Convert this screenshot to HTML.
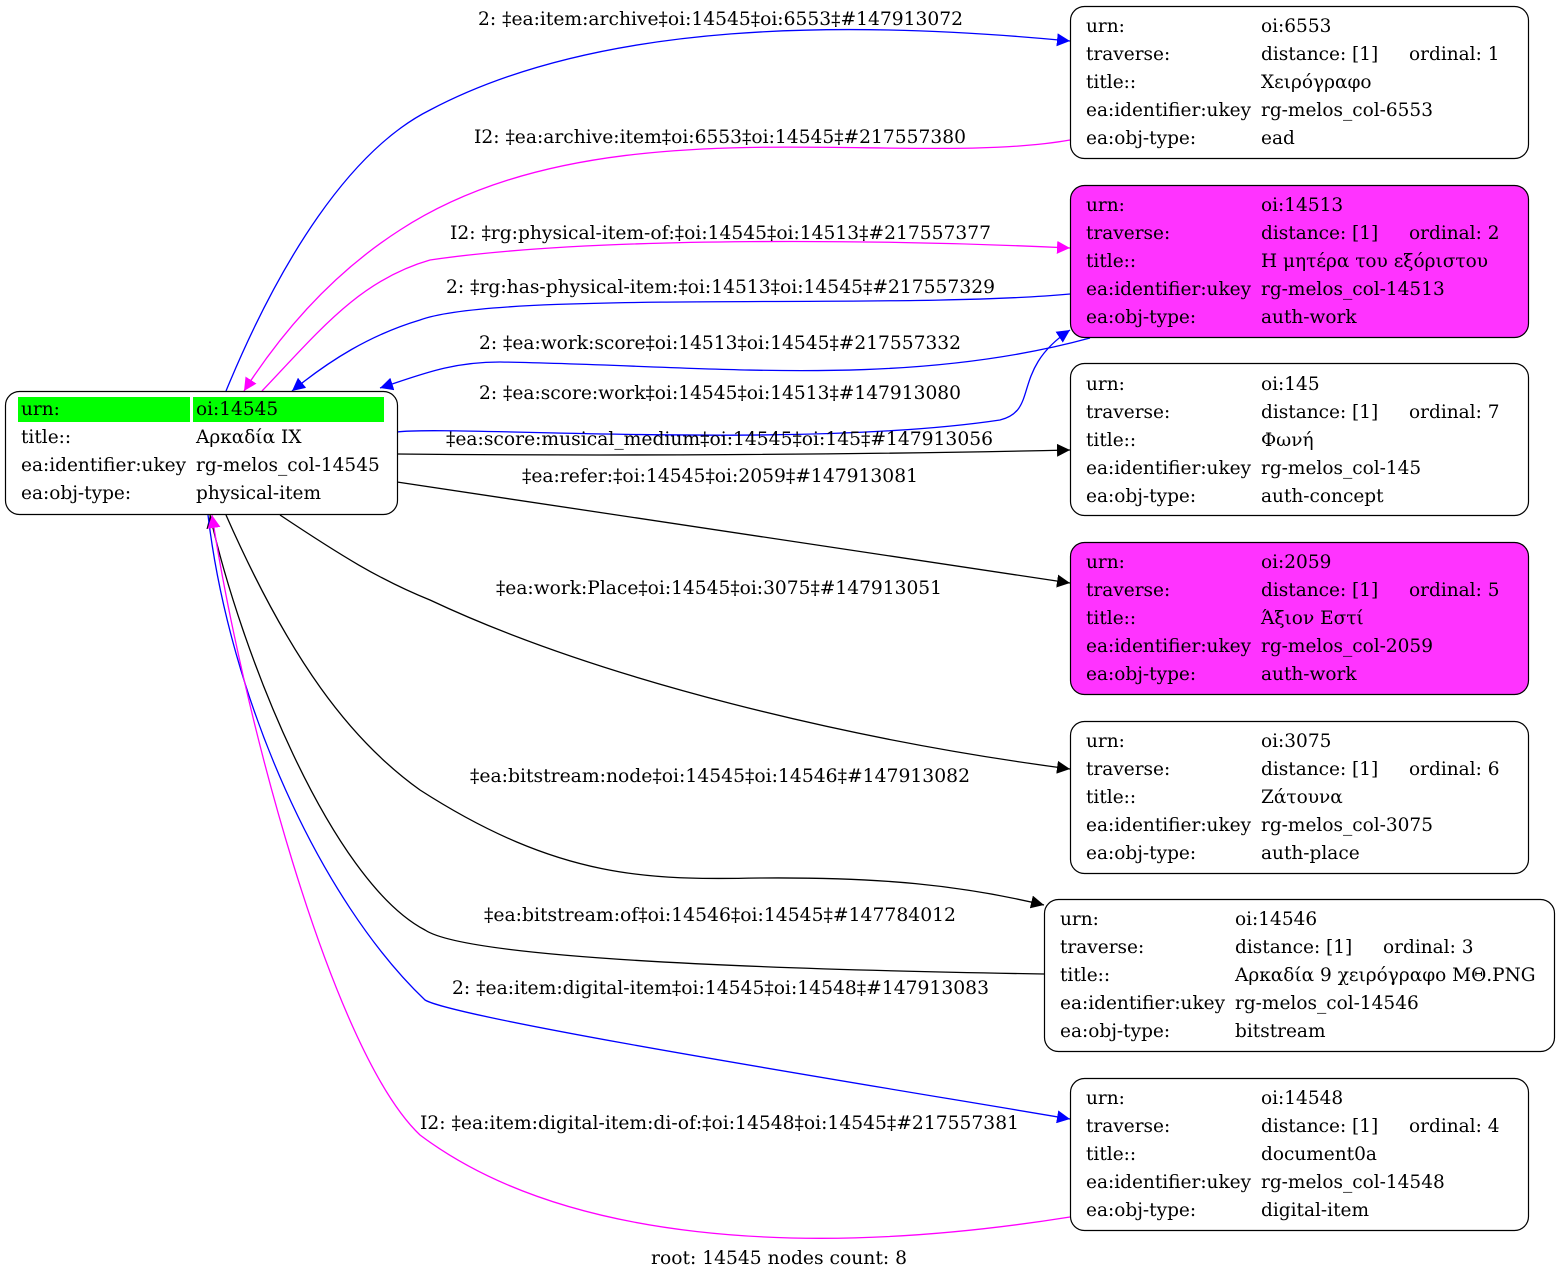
<!DOCTYPE html>
<html><head><meta charset="utf-8"><style>
html,body{margin:0;padding:0;background:#fff;}
svg{display:block;}
text{font-family:"DejaVu Serif","Liberation Serif",serif;font-size:18.5px;fill:#000;}
</style></head><body>
<svg width="1560" height="1280" viewBox="0 0 1560 1280" xmlns="http://www.w3.org/2000/svg">
<defs>
<marker id="ab" viewBox="0 0 10 10" refX="10" refY="5" markerWidth="13" markerHeight="13" markerUnits="userSpaceOnUse" orient="auto"><path d="M0,0L10,5L0,10z" fill="#0000ff"/></marker>
<marker id="am" viewBox="0 0 10 10" refX="10" refY="5" markerWidth="13" markerHeight="13" markerUnits="userSpaceOnUse" orient="auto"><path d="M0,0L10,5L0,10z" fill="#ff00ff"/></marker>
<marker id="ak" viewBox="0 0 10 10" refX="10" refY="5" markerWidth="13" markerHeight="13" markerUnits="userSpaceOnUse" orient="auto"><path d="M0,0L10,5L0,10z" fill="#000"/></marker>
</defs>
<g fill="none" stroke-width="1.3">
<path d="M226,391 C280,260 350,150 430,110 C600,20 850,20 1070,41" stroke="#00f" marker-end="url(#ab)"/>
<path d="M1070,140 C900,170 600,100 400,230 C330,275 280,335 244,391" stroke="#f0f" marker-end="url(#am)"/>
<path d="M262,391 C320,330 360,280 430,260 C600,235 900,240 1070,248" stroke="#f0f" marker-end="url(#am)"/>
<path d="M1070,294 C900,310 500,290 420,320 C370,335 330,360 292,391" stroke="#00f" marker-end="url(#ab)"/>
<path d="M1090,338 C900,390 700,365 500,362 C450,362 420,375 380,388" stroke="#00f" marker-end="url(#ab)"/>
<path d="M397,432 C450,425 800,450 1000,420 C1040,410 1010,370 1070,330" stroke="#00f" marker-end="url(#ab)"/>
<path d="M397,454 C600,456 850,455 1070,450" stroke="#000" marker-end="url(#ak)"/>
<path d="M397,482 L1070,583" stroke="#000" marker-end="url(#ak)"/>
<path d="M280,515 C340,555 380,580 430,600 C600,680 850,740 1070,769" stroke="#000" marker-end="url(#ak)"/>
<path d="M226,515 C290,660 350,740 420,790 C560,880 650,880 760,878 C880,877 960,885 1044,905" stroke="#000" marker-end="url(#ak)"/>
<path d="M1044,974 C800,970 470,960 425,930 C330,880 240,650 210,515" stroke="#000" marker-end="url(#ak)"/>
<path d="M208,515 C230,700 320,900 425,1000 C460,1020 900,1090 1070,1119" stroke="#00f" marker-end="url(#ab)"/>
<path d="M1070,1217 C800,1260 560,1240 420,1135 C330,1050 240,700 212,515" stroke="#f0f" marker-end="url(#am)"/>
</g>
<g>
<text x="478" y="25" textLength="485" lengthAdjust="spacingAndGlyphs">2: ‡ea:item:archive‡oi:14545‡oi:6553‡#147913072</text>
<text x="474" y="143" textLength="492" lengthAdjust="spacingAndGlyphs">I2: ‡ea:archive:item‡oi:6553‡oi:14545‡#217557380</text>
<text x="450" y="239" textLength="541" lengthAdjust="spacingAndGlyphs">I2: ‡rg:physical-item-of:‡oi:14545‡oi:14513‡#217557377</text>
<text x="446" y="293" textLength="549" lengthAdjust="spacingAndGlyphs">2: ‡rg:has-physical-item:‡oi:14513‡oi:14545‡#217557329</text>
<text x="479" y="349" textLength="482" lengthAdjust="spacingAndGlyphs">2: ‡ea:work:score‡oi:14513‡oi:14545‡#217557332</text>
<text x="479" y="399" textLength="482" lengthAdjust="spacingAndGlyphs">2: ‡ea:score:work‡oi:14545‡oi:14513‡#147913080</text>
<text x="446" y="445" textLength="547" lengthAdjust="spacingAndGlyphs">‡ea:score:musical_medium‡oi:14545‡oi:145‡#147913056</text>
<text x="522" y="482" textLength="396" lengthAdjust="spacingAndGlyphs">‡ea:refer:‡oi:14545‡oi:2059‡#147913081</text>
<text x="496" y="594" textLength="446" lengthAdjust="spacingAndGlyphs">‡ea:work:Place‡oi:14545‡oi:3075‡#147913051</text>
<text x="470" y="782" textLength="500" lengthAdjust="spacingAndGlyphs">‡ea:bitstream:node‡oi:14545‡oi:14546‡#147913082</text>
<text x="484" y="921" textLength="472" lengthAdjust="spacingAndGlyphs">‡ea:bitstream:of‡oi:14546‡oi:14545‡#147784012</text>
<text x="452" y="994" textLength="537" lengthAdjust="spacingAndGlyphs">2: ‡ea:item:digital-item‡oi:14545‡oi:14548‡#147913083</text>
<text x="420" y="1129" textLength="599" lengthAdjust="spacingAndGlyphs">I2: ‡ea:item:digital-item:di-of:‡oi:14548‡oi:14545‡#217557381</text>
<text x="651" y="1264" textLength="256" lengthAdjust="spacingAndGlyphs">root: 14545 nodes count: 8</text>
</g>
<rect x="5.5" y="391.5" width="392" height="123" rx="14" fill="#fff" stroke="#000" stroke-width="1.2"/>
<rect x="18" y="397" width="172" height="25" fill="#00ff00"/>
<rect x="193" y="397" width="191" height="25" fill="#00ff00"/>
<text x="21" y="415">urn:</text><text x="196" y="415">oi:14545</text>
<text x="21" y="443">title::</text><text x="196" y="443">Αρκαδία IX</text>
<text x="21" y="471">ea:identifier:ukey</text><text x="196" y="471">rg-melos_col-14545</text>
<text x="21" y="499">ea:obj-type:</text><text x="196" y="499">physical-item</text>
<g>
<rect x="1070.5" y="6.5" width="458" height="152" rx="14" fill="#fff" stroke="#000" stroke-width="1.2"/>
<text x="1086" y="32">urn:</text><text x="1261" y="32">oi:6553</text>
<text x="1086" y="60">traverse:</text><text x="1261" y="60">distance: [1]</text><text x="1409" y="60">ordinal: 1</text>
<text x="1086" y="88">title::</text><text x="1261" y="88">Χειρόγραφο</text>
<text x="1086" y="116">ea:identifier:ukey</text><text x="1261" y="116">rg-melos_col-6553</text>
<text x="1086" y="144">ea:obj-type:</text><text x="1261" y="144">ead</text>
</g>
<g>
<rect x="1070.5" y="185.5" width="458" height="152" rx="14" fill="#ff33ff" stroke="#000" stroke-width="1.2"/>
<text x="1086" y="211">urn:</text><text x="1261" y="211">oi:14513</text>
<text x="1086" y="239">traverse:</text><text x="1261" y="239">distance: [1]</text><text x="1409" y="239">ordinal: 2</text>
<text x="1086" y="267">title::</text><text x="1261" y="267">Η μητέρα του εξόριστου</text>
<text x="1086" y="295">ea:identifier:ukey</text><text x="1261" y="295">rg-melos_col-14513</text>
<text x="1086" y="323">ea:obj-type:</text><text x="1261" y="323">auth-work</text>
</g>
<g>
<rect x="1070.5" y="363.5" width="458" height="152" rx="14" fill="#fff" stroke="#000" stroke-width="1.2"/>
<text x="1086" y="390">urn:</text><text x="1261" y="390">oi:145</text>
<text x="1086" y="418">traverse:</text><text x="1261" y="418">distance: [1]</text><text x="1409" y="418">ordinal: 7</text>
<text x="1086" y="446">title::</text><text x="1261" y="446">Φωνή</text>
<text x="1086" y="474">ea:identifier:ukey</text><text x="1261" y="474">rg-melos_col-145</text>
<text x="1086" y="502">ea:obj-type:</text><text x="1261" y="502">auth-concept</text>
</g>
<g>
<rect x="1070.5" y="542.5" width="458" height="152" rx="14" fill="#ff33ff" stroke="#000" stroke-width="1.2"/>
<text x="1086" y="568">urn:</text><text x="1261" y="568">oi:2059</text>
<text x="1086" y="596">traverse:</text><text x="1261" y="596">distance: [1]</text><text x="1409" y="596">ordinal: 5</text>
<text x="1086" y="624">title::</text><text x="1261" y="624">Άξιον Εστί</text>
<text x="1086" y="652">ea:identifier:ukey</text><text x="1261" y="652">rg-melos_col-2059</text>
<text x="1086" y="680">ea:obj-type:</text><text x="1261" y="680">auth-work</text>
</g>
<g>
<rect x="1070.5" y="721.5" width="458" height="152" rx="14" fill="#fff" stroke="#000" stroke-width="1.2"/>
<text x="1086" y="747">urn:</text><text x="1261" y="747">oi:3075</text>
<text x="1086" y="775">traverse:</text><text x="1261" y="775">distance: [1]</text><text x="1409" y="775">ordinal: 6</text>
<text x="1086" y="803">title::</text><text x="1261" y="803">Ζάτουνα</text>
<text x="1086" y="831">ea:identifier:ukey</text><text x="1261" y="831">rg-melos_col-3075</text>
<text x="1086" y="859">ea:obj-type:</text><text x="1261" y="859">auth-place</text>
</g>
<g>
<rect x="1044.5" y="899.5" width="510" height="152" rx="14" fill="#fff" stroke="#000" stroke-width="1.2"/>
<text x="1060" y="925">urn:</text><text x="1235" y="925">oi:14546</text>
<text x="1060" y="953">traverse:</text><text x="1235" y="953">distance: [1]</text><text x="1383" y="953">ordinal: 3</text>
<text x="1060" y="981">title::</text><text x="1235" y="981">Αρκαδία 9 χειρόγραφο ΜΘ.PNG</text>
<text x="1060" y="1009">ea:identifier:ukey</text><text x="1235" y="1009">rg-melos_col-14546</text>
<text x="1060" y="1037">ea:obj-type:</text><text x="1235" y="1037">bitstream</text>
</g>
<g>
<rect x="1070.5" y="1078.5" width="458" height="152" rx="14" fill="#fff" stroke="#000" stroke-width="1.2"/>
<text x="1086" y="1104">urn:</text><text x="1261" y="1104">oi:14548</text>
<text x="1086" y="1132">traverse:</text><text x="1261" y="1132">distance: [1]</text><text x="1409" y="1132">ordinal: 4</text>
<text x="1086" y="1160">title::</text><text x="1261" y="1160">document0a</text>
<text x="1086" y="1188">ea:identifier:ukey</text><text x="1261" y="1188">rg-melos_col-14548</text>
<text x="1086" y="1216">ea:obj-type:</text><text x="1261" y="1216">digital-item</text>
</g>
</svg>
</body></html>
